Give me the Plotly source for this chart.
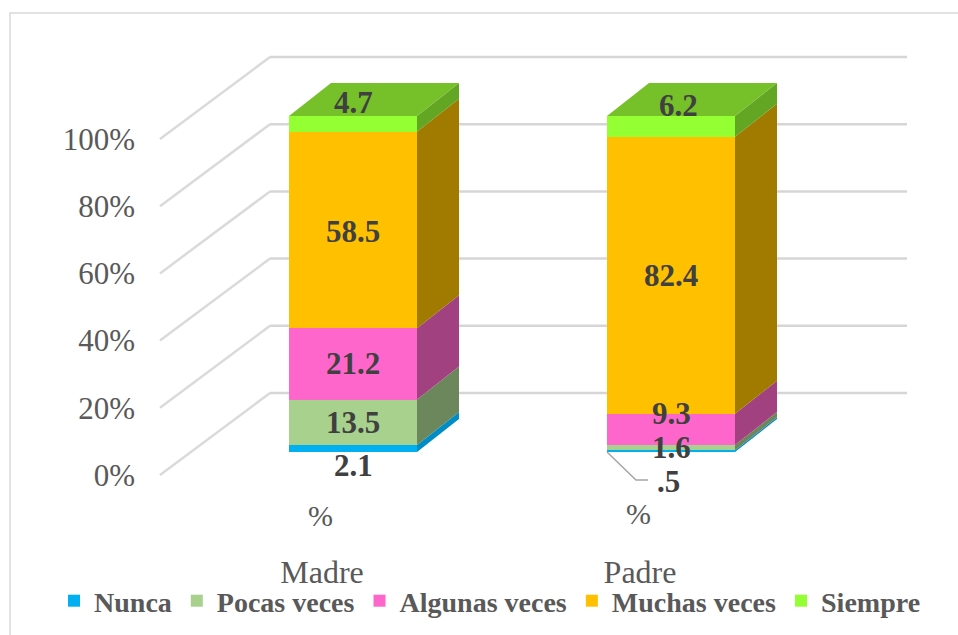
import plotly.graph_objects as go

# ---------------- data ----------------
categories = ["Madre", "Padre"]
series_names = ["Nunca", "Pocas veces", "Algunas veces", "Muchas veces", "Siempre"]
nunca = [2.1, 0.5]
pocas = [13.5, 1.6]
algunas = [21.2, 9.3]
muchas = [58.5, 82.4]
siempre = [4.7, 6.2]
label_text = {
    "Nunca": ["2.1", ".5"],
    "Pocas veces": ["13.5", "1.6"],
    "Algunas veces": ["21.2", "9.3"],
    "Muchas veces": ["58.5", "82.4"],
    "Siempre": ["4.7", "6.2"],
}
tick_values = [0, 20, 40, 60, 80, 100]
tick_labels = ["0%", "20%", "40%", "60%", "80%", "100%"]

# ---------------- styles ----------------
front_colors = ["#00B0F0", "#A9D18E", "#FF66CC", "#FFC000", "#94FF33"]
side_colors = ["#008CC4", "#6C875B", "#A1417F", "#A17B00", "#62A623"]
top_color = "#76C12A"
SERIF = "Liberation Serif"

W, H = 958, 635
PX_X = 318.0          # pixels per category unit
X0_PX = 353.0         # pixel of first category centre
PX_Y = 3.36           # pixels per percent
Y0_PX = 452.0         # pixel of 0% on bar front plane

def px_to_x(p):
    return (p - X0_PX) / PX_X

def dx(p):
    return p / PX_X

def dy(p):
    return p / PX_Y

x_range = [px_to_x(0), px_to_x(W)]
y_range = [(Y0_PX - H) / PX_Y, Y0_PX / PX_Y]

bar_w = dx(128)
depth_dx, depth_dy = dx(42), dy(33)          # bar depth projection
wall_dx, wall_dy = dx(79), dy(59)            # bar front -> back wall
front_dx, front_dy = dx(-31), dy(-23)        # bar front -> front plane
wall_left = px_to_x(191)                     # left end of floor line (bar plane)
wall_right = px_to_x(907)

series_vals = [nunca, pocas, algunas, muchas, siempre]
xs = list(range(len(categories)))

fig = go.Figure()

# stacked front faces
for name, vals, col in zip(series_names, series_vals, front_colors):
    fig.add_trace(go.Bar(
        x=xs, y=vals, name=name, width=bar_w,
        marker=dict(color=col, line=dict(width=0)),
        hoverinfo="skip",
    ))

# side faces (computed from the stacked values)
for i in xs:
    base = 0.0
    xr = i + bar_w / 2
    xl = i - bar_w / 2
    for j, vals in enumerate(series_vals):
        top = base + vals[i]
        fig.add_trace(go.Scatter(
            x=[xr, xr + depth_dx, xr + depth_dx, xr, xr],
            y=[base, base + depth_dy, top + depth_dy, top, base],
            fill="toself", fillcolor=side_colors[j], mode="lines",
            line=dict(width=0), showlegend=False, hoverinfo="skip",
        ))
        base = top
    # top face
    fig.add_trace(go.Scatter(
        x=[xl, xr, xr + depth_dx, xl + depth_dx, xl],
        y=[base, base, base + depth_dy, base + depth_dy, base],
        fill="toself", fillcolor=top_color, mode="lines",
        line=dict(width=0), showlegend=False, hoverinfo="skip",
    ))

# gridlines on back wall + diagonals on side wall
shapes = []
for t in tick_values:
    xa, ya = wall_left + front_dx, t + front_dy
    xb, yb = wall_left + wall_dx, t + wall_dy
    shapes.append(dict(type="line", xref="x", yref="y", x0=xa, y0=ya, x1=xb, y1=yb,
                       line=dict(color="#DADADA", width=2.5), layer="below"))
    shapes.append(dict(type="line", xref="x", yref="y", x0=xb, y0=yb, x1=wall_right, y1=yb,
                       line=dict(color="#D6D6D6", width=2.5), layer="below"))

# outer chart border
shapes.append(dict(type="rect", xref="paper", yref="paper",
                   x0=10 / W, x1=1.02, y0=-0.02, y1=1 - 13 / H,
                   line=dict(color="#D9D9D9", width=1.5), layer="below"))

# data label offsets (percent units / px)
label_shift_y = {
    "Madre": [-5.2, 0, 0, -0.3, 6.5],
    "Padre": [-9.15, -0.1, 4.85, -0.2, 6.1],
}
label_shift_x = {
    "Madre": [0, 0, 0, 0, 0],
    "Padre": [-3, 0, 0, 0, 7],
}
annotations = []
for i, cat in enumerate(categories):
    base = 0.0
    for j, name in enumerate(series_names):
        v = series_vals[j][i]
        mid = base + v / 2
        annotations.append(dict(
            x=i + dx(label_shift_x[cat][j]), y=mid + label_shift_y[cat][j],
            xref="x", yref="y", text=label_text[name][i], showarrow=False,
            font=dict(family=SERIF, size=31, color="#404040", weight="bold"),
            xanchor="center", yanchor="middle",
        ))
        base += v

# "%" parts of the wrapped bottom labels
pct_pos = {"Madre": (-33, -18.75), "Padre": (-33, -18.2)}
for i, cat in enumerate(categories):
    ox, oy = pct_pos[cat]
    annotations.append(dict(
        x=i + dx(ox), y=oy, xref="x", yref="y", text="%", showarrow=False,
        font=dict(family=SERIF, size=30, color="#595959"),
        xanchor="center", yanchor="middle",
    ))

# leader line for the small Padre "Nunca" label
xl_p = 1 - bar_w / 2
shapes.append(dict(type="path", xref="x", yref="y",
                   path=f"M {xl_p},{0} L {xl_p + dx(29)},{dy(-28)} L {xl_p + dx(41)},{dy(-28)}",
                   line=dict(color="#A6A6A6", width=1.5)))

fig.update_layout(
    width=W, height=H,
    margin=dict(l=0, r=0, t=0, b=0),
    paper_bgcolor="white", plot_bgcolor="rgba(0,0,0,0)",
    barmode="stack", bargap=0,
    showlegend=True,
    legend=dict(orientation="h", x=0.5115, xanchor="center", y=(H - 601) / H, yanchor="middle",
                traceorder="normal",
                font=dict(family=SERIF, size=28, color="#595959", weight="bold"),
                itemwidth=30, bgcolor="rgba(0,0,0,0)"),
    xaxis=dict(range=x_range, showgrid=False, zeroline=False, showline=False,
               tickvals=[i + front_dx for i in xs], ticktext=categories,
               ticks="", anchor="free", position=(H - 550) / H,
               tickfont=dict(family=SERIF, size=32, color="#595959"),
               fixedrange=True),
    yaxis=dict(range=y_range, showgrid=False, zeroline=False, showline=False,
               tickvals=[t + front_dy for t in tick_values], ticktext=tick_labels,
               ticks="", anchor="free", position=135 / W,
               tickfont=dict(family=SERIF, size=31, color="#595959"),
               fixedrange=True),
    shapes=shapes,
    annotations=annotations,
)

fig.write_html("out.html", config={"displayModeBar": False},
               post_script="document.body.style.margin='0';document.body.style.overflow='hidden';")
